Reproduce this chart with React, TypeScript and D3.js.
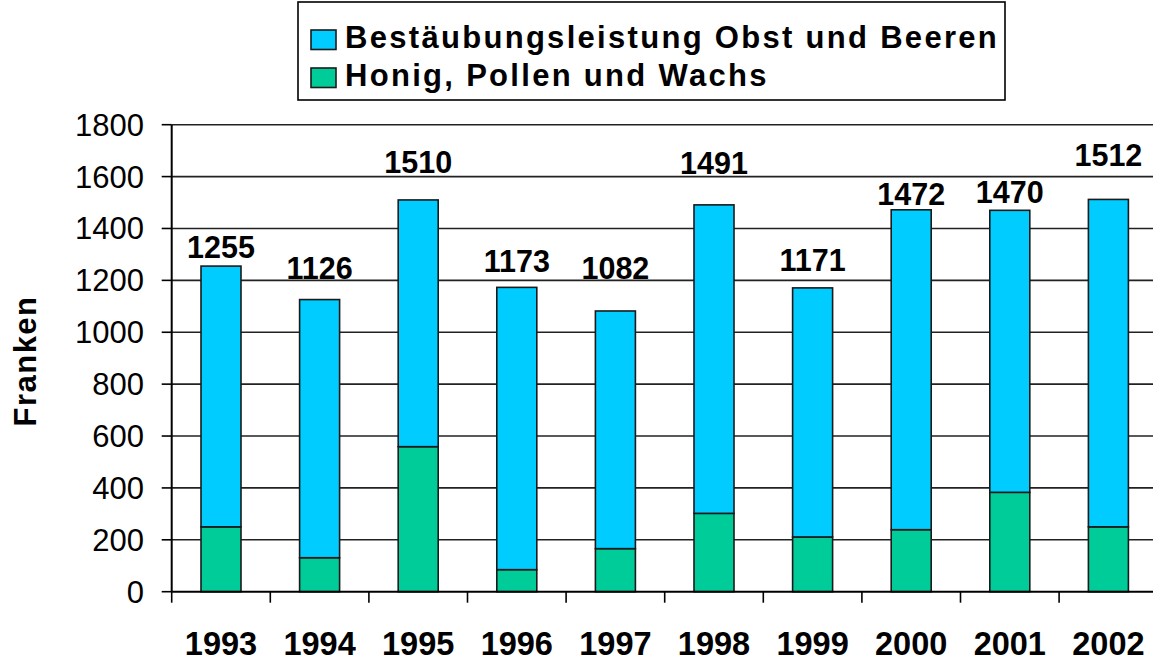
import React from "react";
import * as d3 from "d3";

const years = ["1993", "1994", "1995", "1996", "1997", "1998", "1999", "2000", "2001", "2002"];
const totals = [1255, 1126, 1510, 1173, 1082, 1491, 1171, 1472, 1470, 1512];
const honig = [250, 131, 559, 85, 166, 302, 211, 239, 383, 250];
const yTicks = [0, 200, 400, 600, 800, 1000, 1200, 1400, 1600, 1800];
const seriesNames = ["Bestäubungsleistung Obst und Beeren", "Honig, Pollen und Wachs"];
const seriesColors = ["#00CCFF", "#00CC99"];

// layout: label baseline lift above bar top (px), as placed in the original
const labelLift = [8, 21, 27, 15, 32, 31, 17, 5, 7, 33];

const W = 1153;
const H = 661;
const FONT = "'Liberation Sans', Arial, Helvetica, sans-serif";

export default function App() {
  const x = d3.scaleBand<string>().domain(years).range([171.7, 171.7 + 98.6 * 10]).padding(0);
  const y = d3.scaleLinear().domain([0, 1800]).range([591.7, 124.7]);
  const barW = 40;
  const stack = years.map((yr, i) => ({
    yr,
    honig: honig[i],
    best: totals[i] - honig[i],
    total: totals[i],
  }));
  const series = d3.stack<any>().keys(["honig", "best"])(stack);
  const colorFor = (k: string) => (k === "honig" ? seriesColors[1] : seriesColors[0]);
  const x0 = x.range()[0];
  const x1 = x.range()[1];

  return (
    <svg width={W} height={H} style={{ position: "absolute", left: 0, top: 0, background: "#fff" }} fontFamily={FONT}>
      <rect x={0} y={0} width={W} height={H} fill="#fff" />
      {/* grid */}
      {yTicks.filter((t) => t > 0).map((t) => (
        <line key={"g" + t} x1={x0} x2={x1} y1={y(t)} y2={y(t)} stroke="#222" strokeWidth={1.6} />
      ))}
      {/* y ticks */}
      {yTicks.map((t) => (
        <g key={"yt" + t}>
          <line x1={x0 - 10} x2={x0} y1={y(t)} y2={y(t)} stroke="#000" strokeWidth={1.6} />
          <text x={144} y={y(t) + 11} textAnchor="end" fontSize={31} fill="#000">
            {t}
          </text>
        </g>
      ))}
      {/* bars */}
      {series.map((s) => (
        <g key={s.key}>
          {s.map((d, i) => {
            const cx = (x(years[i]) as number) + x.bandwidth() / 2;
            return (
              <rect
                key={i}
                x={cx - barW / 2}
                y={y(d[1])}
                width={barW}
                height={y(d[0]) - y(d[1])}
                fill={colorFor(s.key as string)}
                stroke="#1a1a1a"
                strokeWidth={1.6}
              />
            );
          })}
        </g>
      ))}
      {/* axes */}
      <line x1={x0} x2={x1} y1={y(0)} y2={y(0)} stroke="#000" strokeWidth={2} />
      <line x1={x0} x2={x0} y1={y(1800)} y2={y(0)} stroke="#000" strokeWidth={2} />
      {years.map((yr) => (
        <line key={"xt" + yr} x1={x(yr)} x2={x(yr)} y1={y(0)} y2={y(0) + 11} stroke="#000" strokeWidth={1.6} />
      ))}
      {years.map((yr) => (
        <text
          key={"xl" + yr}
          x={(x(yr) as number) + x.bandwidth() / 2}
          y={655}
          textAnchor="middle"
          fontSize={32.5}
          fontWeight="bold"
          fill="#000"
        >
          {yr}
        </text>
      ))}
      {/* value labels */}
      {years.map((yr, i) => (
        <text
          key={"vl" + yr}
          x={(x(yr) as number) + x.bandwidth() / 2}
          y={y(totals[i]) - labelLift[i]}
          textAnchor="middle"
          fontSize={30.5}
          fontWeight="bold"
          fill="#000"
        >
          {totals[i]}
        </text>
      ))}
      {/* y title */}
      <text
        transform={`translate(36,361) rotate(-90)`}
        textAnchor="middle"
        fontSize={31}
        fontWeight="bold"
        letterSpacing={1.5}
        fill="#000"
      >
        Franken
      </text>
      {/* legend */}
      <rect x={298} y={2} width={707} height={98} fill="#fff" stroke="#000" strokeWidth={1.6} />
      {seriesNames.map((n, i) => (
        <g key={n}>
          <rect x={311} y={30 + i * 38} width={25} height={19.5} fill={seriesColors[i]} stroke="#1a1a1a" strokeWidth={1.6} />
          <text x={345} y={48 + i * 38} fontSize={31} fontWeight="bold" letterSpacing={2.3} fill="#000">
            {n}
          </text>
        </g>
      ))}
    </svg>
  );
}
